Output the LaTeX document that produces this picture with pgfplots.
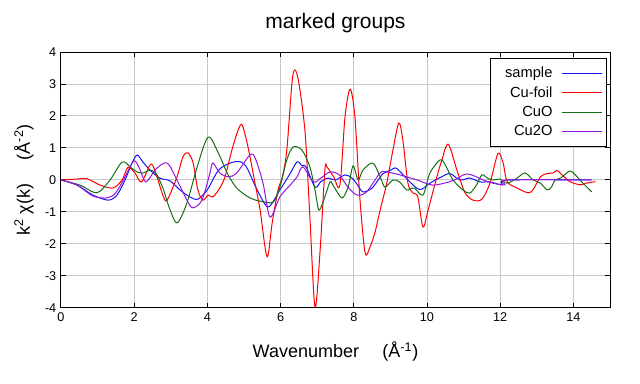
\documentclass[border=0pt]{standalone}
\usepackage{fontspec}
\setmainfont{Liberation Sans}
\usepackage{pgfplots}
\pgfplotsset{compat=1.18}
\usetikzlibrary{calc}
\definecolor{cblue}{RGB}{20,20,255}
\definecolor{cred}{RGB}{255,0,0}
\definecolor{cgreen}{RGB}{20,110,20}
\definecolor{cpurple}{RGB}{150,20,220}
\definecolor{cgrid}{RGB}{200,200,200}
\begin{document}
\begin{tikzpicture}
\begin{axis}[
  scale only axis, width=411.75pt, height=192pt,
  xmin=0, xmax=15, ymin=-4, ymax=4,
  xtick={0,2,...,14}, ytick={-4,-3,...,4},
  tick align=inside, xtick pos=both, ytick pos=both,
  major tick length=3.75pt,
  tick style={black, line width=0.75pt},
  axis line style={black, line width=0.75pt},
  grid=major, major grid style={cgrid, line width=0.75pt},
  /pgf/number format/assume math mode=true,
  ticklabel style={font=\fontsize{9.5}{11}\selectfont},
  title={marked groups},
  title style={font=\fontsize{15.75}{18}\selectfont, at={(0.5,1)}, anchor=base, yshift=12pt},
  xlabel={Wavenumber\hspace{1.3em}(Å\textsuperscript{-1})},
  xlabel style={font=\fontsize{13.5}{16}\selectfont, at={(0.5,0)}, anchor=base, yshift=-37.5pt},
  ylabel={k\textsuperscript{2} χ(k)\hspace{1.3em}(Å\textsuperscript{-2})},
  ylabel style={font=\fontsize{13.5}{16}\selectfont, at={(-0.0565,0.5)}, anchor=base},
  legend plot pos=right,
  legend cell align=right,
  legend image code/.code={\draw[#1, line width=0.75pt] (0pt,0pt) -- (30pt,0pt);},
  legend style={at={(0.995,0.977)}, anchor=north east, draw=black, line width=0.75pt,
    font=\fontsize{11}{12}\selectfont, inner xsep=3pt, inner ysep=4.5pt,
    row sep=1.2pt,
    /tikz/every odd column/.append style={column sep=5pt},
    cells={anchor=east}},
  every axis plot/.append style={line width=0.75pt, smooth, tension=0.5},
]
\addplot[cblue] coordinates {
(0,0) (0.44,-0.16) (0.87,-0.47) (1.29,-0.63) (1.53,-0.47) (1.75,0) (1.94,0.53) (2.08,0.78) (2.24,0.56) (2.43,0.31) (2.7,0.06) (2.98,-0.03) (3.25,-0.31) (3.52,-0.53) (3.74,-0.6) (4.0,-0.3) (4.3,0.3) (4.62,0.53) (4.9,0.57) (5.08,0.38) (5.36,-0.31) (5.66,-0.84) (5.98,-0.31) (6.26,0.2) (6.45,0.57) (6.58,0.45) (6.7,0.4) (6.94,-0.22) (7.1,-0.05) (7.3,0.06) (7.5,0) (7.76,0.16) (7.95,0.06) (8.1,-0.15) (8.25,-0.37) (8.5,-0.25) (8.8,0.2) (9.0,0.3) (9.13,0.38) (9.25,0.28) (9.48,0) (9.8,-0.3) (10.08,-0.1) (10.4,0.1) (10.63,0.2) (10.9,0) (11.17,0.06) (11.45,-0.06) (11.72,-0.06) (12.05,-0.15) (12.2,0) (14.5,0)
};
\addlegendentry{\hspace*{6pt}sample}
\addplot[cred] coordinates {
(0,0) (0.44,0.03) (0.71,0.04) (1.07,-0.16) (1.42,-0.25) (1.67,0) (1.83,0.4) (2.02,0.22) (2.2,-0.06) (2.46,0.5) (2.62,0.1) (2.79,-0.5) (2.9,-0.63) (3.17,0.1) (3.33,0.72) (3.47,0.85) (3.61,0.53) (3.74,-0.31) (3.88,-0.63) (4.02,-0.47) (4.15,-0.53) (4.34,-0.25) (4.48,0.1) (4.67,0.94) (4.84,1.56) (4.95,1.72) (5.11,1.03) (5.3,-0.1) (5.44,-0.94) (5.63,-2.4) (5.77,-1.34) (5.93,-0.31) (6.05,0.1) (6.17,0.94) (6.31,3.03) (6.39,3.44) (6.5,3.03) (6.67,1.47) (6.8,-1.16) (6.94,-3.97) (7.08,-2.19) (7.21,0.31) (7.27,0.4) (7.45,0.1) (7.62,-0.16) (7.76,1.97) (7.9,2.84) (8.03,1.97) (8.17,-0.63) (8.31,-2.28) (8.44,-2.1) (8.58,-1.63) (8.72,-0.94) (8.9,-0.1) (9.07,0.94) (9.23,1.78) (9.34,1.25) (9.48,-0.1) (9.62,-0.41) (9.75,-0.53) (9.89,-1.47) (10.03,-0.94) (10.27,0.1) (10.4,0.6) (10.58,1.12) (10.82,0.3) (11.04,-0.4) (11.26,-0.63) (11.5,-0.6) (11.72,-0.1) (11.94,0.83) (12.08,0.53) (12.19,-0.05) (12.46,-0.25) (12.76,-0.4) (12.9,-0.3) (13.1,0.1) (13.28,0.2) (13.45,0.22) (13.55,0.3) (13.7,0.15) (13.9,-0.05) (14.18,-0.15) (14.35,-0.1) (14.6,-0.05)
};
\addlegendentry{Cu-foil}
\addplot[cgreen] coordinates {
(0,0) (0.52,-0.16) (0.98,-0.4) (1.34,0) (1.67,0.56) (1.9,0.4) (2.08,0.25) (2.25,0.22) (2.43,0.31) (2.6,0.2) (2.8,-0.3) (2.95,-0.84) (3.17,-1.34) (3.44,-0.72) (3.72,0.41) (4.02,1.34) (4.3,0.84) (4.54,0.22) (4.8,-0.25) (5.16,-0.56) (5.44,-0.66) (5.8,-0.69) (5.98,-0.22) (6.17,0.63) (6.34,1.03) (6.58,0.94) (6.8,0.41) (6.94,-0.31) (7.05,-0.94) (7.21,-0.53) (7.35,-0.06) (7.45,-0.2) (7.68,-0.56) (7.85,-0.2) (7.98,0.44) (8.12,0) (8.25,0.31) (8.52,0.53) (8.72,0.1) (8.85,-0.22) (9.07,0) (9.25,-0.06) (9.45,-0.31) (9.65,-0.25) (9.89,-0.47) (10.08,0.22) (10.36,0.63) (10.5,0.47) (10.71,0) (10.98,-0.31) (11.17,-0.41) (11.35,-0.16) (11.5,0.16) (11.65,0.06) (11.8,0) (12.0,0.03) (12.19,-0.1) (12.46,0.06) (12.68,0.22) (12.9,0) (13.1,-0.1) (13.28,-0.31) (13.4,-0.22) (13.5,0) (13.65,0.06) (13.9,0.28) (14.05,0.16) (14.26,-0.1) (14.5,-0.37)
};
\addlegendentry{CuO}
\addplot[cpurple] coordinates {
(0,0) (0.44,-0.16) (0.87,-0.5) (1.26,-0.56) (1.5,-0.4) (1.75,0.1) (1.99,0.6) (2.15,0.35) (2.32,-0.06) (2.6,0.35) (2.9,0.53) (3.17,0) (3.44,-0.63) (3.6,-0.87) (3.85,-0.63) (4.07,0.22) (4.15,0.53) (4.34,0.22) (4.57,0.1) (4.8,0.22) (5.16,0.78) (5.3,0.7) (5.52,-0.1) (5.71,-1.16) (5.98,-0.53) (6.26,-0.16) (6.45,0.1) (6.61,0.41) (6.89,-0.06) (7.1,0.06) (7.35,0.25) (7.6,0.16) (7.84,-0.22) (8.09,-0.47) (8.35,-0.37) (8.72,0.22) (8.9,0.25) (9.26,0.16) (9.73,0) (10.16,-0.16) (10.6,-0.06) (10.75,0) (11.1,0.19) (11.54,0) (11.8,-0.1) (12.13,-0.15) (12.2,0) (14.5,0)
};
\addlegendentry{Cu2O}
\coordinate (ll) at (rel axis cs:0,0);
\coordinate (ur) at (rel axis cs:1,1);
\end{axis}
\pgfresetboundingbox
\path[use as bounding box] ($(ll)+(-45.75pt,-57pt)$) rectangle ($(ur)+(22.5pt,39pt)$);
\end{tikzpicture}
\end{document}
